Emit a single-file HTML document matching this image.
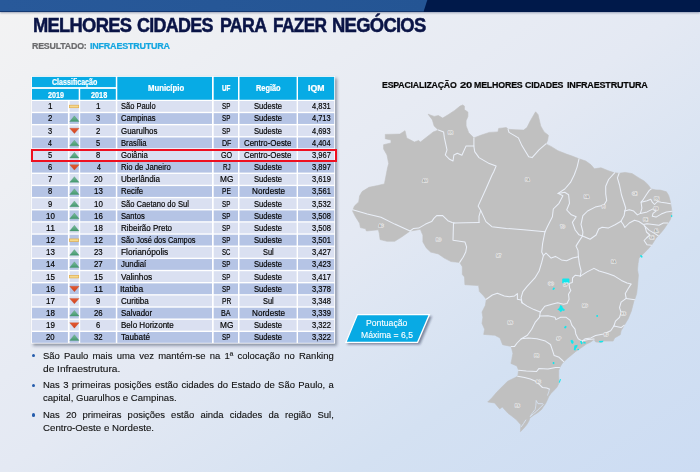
<!DOCTYPE html>
<html><head><meta charset="utf-8"><title>Melhores Cidades</title>
<style>
html,body{margin:0;padding:0;background:#fff}
body{width:700px;height:472px;overflow:hidden;position:relative;font-family:"Liberation Sans",sans-serif}
#bg{left:0;top:0;width:700px;height:472px;background:linear-gradient(to bottom right,#F3F3F3 0%,#E4E9F3 50%,#D4E1F2 75%,#CCDCF3 100%)}
.abs{position:absolute}
#bar{left:0;top:0;width:700px;height:11.6px;background:#00194A;box-shadow:0 1px 2px rgba(0,20,70,.35)}
#barl{left:0;top:0;width:428px;height:11.6px;background:linear-gradient(to right,#28599A,#245594);clip-path:polygon(0 0,427.3px 0,423.6px 100%,0 100%)}
.t{position:absolute;white-space:nowrap;transform-origin:0 0;line-height:1}
#tbl{left:31.2px;top:76.2px;width:303.8px;height:267.4px;background:#fff;box-shadow:1.2px 1.2px 2.2px rgba(40,50,80,.55)}
.c{position:absolute}
.h{background:#10A9E1}
.a{background:#DAE0F1} .b{background:#B5C4E5}
.ic svg{position:absolute;left:0;top:0;overflow:visible}
#red{left:31px;top:148.8px;width:302px;height:9px;border:2px solid #EE1020}
.bl{position:absolute;left:43.0px;color:#101010;line-height:1;white-space:nowrap}
.j{text-align:justify;text-align-last:justify;white-space:normal}
.dot{position:absolute;left:32.1px;width:3.4px;height:3.4px;border-radius:50%;background:#245CAC}
#badge{left:340px;top:308px}
</style></head>
<body>
<div id="bg" class="abs"></div>
<div id="bar" class="abs"></div><div id="barl" class="abs"></div>
<div class="t" style="left:32.64px;top:16.00px;font-size:19.3px;font-weight:bold;color:#0A1446;transform:scaleX(0.9508);letter-spacing:-0.75px;-webkit-text-stroke:0.5px #0A1446;">MELHORES</div>
<div class="t" style="left:137.02px;top:16.00px;font-size:19.3px;font-weight:bold;color:#0A1446;transform:scaleX(0.9275);letter-spacing:-0.75px;-webkit-text-stroke:0.5px #0A1446;">CIDADES</div>
<div class="t" style="left:219.67px;top:16.00px;font-size:19.3px;font-weight:bold;color:#0A1446;transform:scaleX(0.9218);letter-spacing:-0.75px;-webkit-text-stroke:0.5px #0A1446;">PARA</div>
<div class="t" style="left:272.50px;top:16.00px;font-size:19.3px;font-weight:bold;color:#0A1446;transform:scaleX(0.8973);letter-spacing:-0.75px;-webkit-text-stroke:0.5px #0A1446;">FAZER</div>
<div class="t" style="left:332.04px;top:16.00px;font-size:19.3px;font-weight:bold;color:#0A1446;transform:scaleX(0.9553);letter-spacing:-0.75px;-webkit-text-stroke:0.5px #0A1446;">NEGÓCIOS</div>
<div class="t" style="left:32.23px;top:42.00px;font-size:8.8px;font-weight:bold;color:#6A6A6C;transform:scaleX(1.0046);letter-spacing:-0.2px;-webkit-text-stroke:0.2px #6A6A6C;">RESULTADO:</div>
<div class="t" style="left:90.32px;top:42.00px;font-size:8.8px;font-weight:bold;color:#14A6E0;transform:scaleX(1.0200);letter-spacing:-0.2px;-webkit-text-stroke:0.2px #14A6E0;">INFRAESTRUTURA</div>
<div class="t" style="left:382.12px;top:80.00px;font-size:9.5px;font-weight:bold;color:#060606;transform:scaleX(0.9216);letter-spacing:-0.2px;-webkit-text-stroke:0.2px #060606;">ESPACIALIZAÇÃO</div>
<div class="t" style="left:459.73px;top:80.00px;font-size:9.5px;font-weight:bold;color:#060606;transform:scaleX(1.1798);letter-spacing:-0.2px;-webkit-text-stroke:0.2px #060606;">20</div>
<div class="t" style="left:474.12px;top:80.00px;font-size:9.5px;font-weight:bold;color:#060606;transform:scaleX(0.9290);letter-spacing:-0.2px;-webkit-text-stroke:0.2px #060606;">MELHORES</div>
<div class="t" style="left:525.34px;top:80.00px;font-size:9.5px;font-weight:bold;color:#060606;transform:scaleX(0.9260);letter-spacing:-0.2px;-webkit-text-stroke:0.2px #060606;">CIDADES</div>
<div class="t" style="left:566.91px;top:80.00px;font-size:9.5px;font-weight:bold;color:#060606;transform:scaleX(0.9510);letter-spacing:-0.2px;-webkit-text-stroke:0.2px #060606;">INFRAESTRUTURA</div>

<svg class="abs" style="left:20px;top:66px" width="330" height="292" viewBox="20 66 330 292">
<defs>
<linearGradient id="gu" gradientUnits="objectBoundingBox" x1="0" y1="0" x2="0" y2="1"><stop offset="0" stop-color="#7ABB9A"/><stop offset="1" stop-color="#43986E"/></linearGradient>
<linearGradient id="gd" gradientUnits="objectBoundingBox" x1="0" y1="0" x2="0" y2="1"><stop offset="0" stop-color="#E45A31"/><stop offset="1" stop-color="#CE4423"/></linearGradient>
<filter id="ts" x="-5%" y="-5%" width="112%" height="112%"><feGaussianBlur stdDeviation="1.35"/></filter>
</defs>
<rect x="33" y="78.2" width="304" height="267.6" fill="rgba(40,48,75,.46)" filter="url(#ts)"/>
<rect x="31.2" y="76.2" width="303.9" height="267.4" fill="#fff"/>
<rect x="32.00" y="76.90" width="83.80" height="10.20" fill="#07ABE5"/>
<rect x="32.00" y="88.90" width="46.70" height="10.85" fill="#07ABE5"/>
<rect x="80.20" y="88.90" width="35.60" height="10.85" fill="#07ABE5"/>
<rect x="117.30" y="76.90" width="94.70" height="22.85" fill="#07ABE5"/>
<rect x="213.70" y="76.90" width="24.30" height="22.85" fill="#07ABE5"/>
<rect x="239.50" y="76.90" width="57.10" height="22.85" fill="#07ABE5"/>
<rect x="298.00" y="76.90" width="36.20" height="22.85" fill="#07ABE5"/>
<rect x="32.00" y="101.00" width="35.90" height="10.80" fill="#DAE0F1"/>
<rect x="69.60" y="101.00" width="9.20" height="10.80" fill="#DAE0F1"/>
<rect x="80.20" y="101.00" width="35.60" height="10.80" fill="#DAE0F1"/>
<rect x="117.30" y="101.00" width="94.70" height="10.80" fill="#DAE0F1"/>
<rect x="213.70" y="101.00" width="24.30" height="10.80" fill="#DAE0F1"/>
<rect x="239.50" y="101.00" width="57.10" height="10.80" fill="#DAE0F1"/>
<rect x="298.00" y="101.00" width="36.20" height="10.80" fill="#DAE0F1"/>
<rect x="69.4" y="105.20" width="9.3" height="2.5" fill="#F5D98C" stroke="#E3AE4B" stroke-width="0.7"/>
<rect x="32.00" y="113.16" width="35.90" height="10.80" fill="#B5C4E5"/>
<rect x="69.60" y="113.16" width="9.20" height="10.80" fill="#B5C4E5"/>
<rect x="80.20" y="113.16" width="35.60" height="10.80" fill="#B5C4E5"/>
<rect x="117.30" y="113.16" width="94.70" height="10.80" fill="#B5C4E5"/>
<rect x="213.70" y="113.16" width="24.30" height="10.80" fill="#B5C4E5"/>
<rect x="239.50" y="113.16" width="57.10" height="10.80" fill="#B5C4E5"/>
<rect x="298.00" y="113.16" width="36.20" height="10.80" fill="#B5C4E5"/>
<path d="M74.4 115.86 L79.1 121.56 L69.7 121.56 Z" fill="url(#gu)" stroke="#3F9068" stroke-width=".3"/>
<rect x="32.00" y="125.32" width="35.90" height="10.80" fill="#DAE0F1"/>
<rect x="69.60" y="125.32" width="9.20" height="10.80" fill="#DAE0F1"/>
<rect x="80.20" y="125.32" width="35.60" height="10.80" fill="#DAE0F1"/>
<rect x="117.30" y="125.32" width="94.70" height="10.80" fill="#DAE0F1"/>
<rect x="213.70" y="125.32" width="24.30" height="10.80" fill="#DAE0F1"/>
<rect x="239.50" y="125.32" width="57.10" height="10.80" fill="#DAE0F1"/>
<rect x="298.00" y="125.32" width="36.20" height="10.80" fill="#DAE0F1"/>
<path d="M69.7 128.22 L79.1 128.22 L74.4 133.62 Z" fill="url(#gd)" stroke="#C23F20" stroke-width=".3"/>
<rect x="32.00" y="137.47" width="35.90" height="10.80" fill="#B5C4E5"/>
<rect x="69.60" y="137.47" width="9.20" height="10.80" fill="#B5C4E5"/>
<rect x="80.20" y="137.47" width="35.60" height="10.80" fill="#B5C4E5"/>
<rect x="117.30" y="137.47" width="94.70" height="10.80" fill="#B5C4E5"/>
<rect x="213.70" y="137.47" width="24.30" height="10.80" fill="#B5C4E5"/>
<rect x="239.50" y="137.47" width="57.10" height="10.80" fill="#B5C4E5"/>
<rect x="298.00" y="137.47" width="36.20" height="10.80" fill="#B5C4E5"/>
<path d="M74.4 140.17 L79.1 145.87 L69.7 145.87 Z" fill="url(#gu)" stroke="#3F9068" stroke-width=".3"/>
<rect x="32.00" y="149.63" width="35.90" height="10.80" fill="#DAE0F1"/>
<rect x="69.60" y="149.63" width="9.20" height="10.80" fill="#DAE0F1"/>
<rect x="80.20" y="149.63" width="35.60" height="10.80" fill="#DAE0F1"/>
<rect x="117.30" y="149.63" width="94.70" height="10.80" fill="#DAE0F1"/>
<rect x="213.70" y="149.63" width="24.30" height="10.80" fill="#DAE0F1"/>
<rect x="239.50" y="149.63" width="57.10" height="10.80" fill="#DAE0F1"/>
<rect x="298.00" y="149.63" width="36.20" height="10.80" fill="#DAE0F1"/>
<path d="M74.4 152.33 L79.1 158.03 L69.7 158.03 Z" fill="url(#gu)" stroke="#3F9068" stroke-width=".3"/>
<rect x="32.00" y="161.79" width="35.90" height="10.80" fill="#B5C4E5"/>
<rect x="69.60" y="161.79" width="9.20" height="10.80" fill="#B5C4E5"/>
<rect x="80.20" y="161.79" width="35.60" height="10.80" fill="#B5C4E5"/>
<rect x="117.30" y="161.79" width="94.70" height="10.80" fill="#B5C4E5"/>
<rect x="213.70" y="161.79" width="24.30" height="10.80" fill="#B5C4E5"/>
<rect x="239.50" y="161.79" width="57.10" height="10.80" fill="#B5C4E5"/>
<rect x="298.00" y="161.79" width="36.20" height="10.80" fill="#B5C4E5"/>
<path d="M69.7 164.69 L79.1 164.69 L74.4 170.09 Z" fill="url(#gd)" stroke="#C23F20" stroke-width=".3"/>
<rect x="32.00" y="173.95" width="35.90" height="10.80" fill="#DAE0F1"/>
<rect x="69.60" y="173.95" width="9.20" height="10.80" fill="#DAE0F1"/>
<rect x="80.20" y="173.95" width="35.60" height="10.80" fill="#DAE0F1"/>
<rect x="117.30" y="173.95" width="94.70" height="10.80" fill="#DAE0F1"/>
<rect x="213.70" y="173.95" width="24.30" height="10.80" fill="#DAE0F1"/>
<rect x="239.50" y="173.95" width="57.10" height="10.80" fill="#DAE0F1"/>
<rect x="298.00" y="173.95" width="36.20" height="10.80" fill="#DAE0F1"/>
<path d="M74.4 176.65 L79.1 182.35 L69.7 182.35 Z" fill="url(#gu)" stroke="#3F9068" stroke-width=".3"/>
<rect x="32.00" y="186.11" width="35.90" height="10.80" fill="#B5C4E5"/>
<rect x="69.60" y="186.11" width="9.20" height="10.80" fill="#B5C4E5"/>
<rect x="80.20" y="186.11" width="35.60" height="10.80" fill="#B5C4E5"/>
<rect x="117.30" y="186.11" width="94.70" height="10.80" fill="#B5C4E5"/>
<rect x="213.70" y="186.11" width="24.30" height="10.80" fill="#B5C4E5"/>
<rect x="239.50" y="186.11" width="57.10" height="10.80" fill="#B5C4E5"/>
<rect x="298.00" y="186.11" width="36.20" height="10.80" fill="#B5C4E5"/>
<path d="M74.4 188.81 L79.1 194.51 L69.7 194.51 Z" fill="url(#gu)" stroke="#3F9068" stroke-width=".3"/>
<rect x="32.00" y="198.26" width="35.90" height="10.80" fill="#DAE0F1"/>
<rect x="69.60" y="198.26" width="9.20" height="10.80" fill="#DAE0F1"/>
<rect x="80.20" y="198.26" width="35.60" height="10.80" fill="#DAE0F1"/>
<rect x="117.30" y="198.26" width="94.70" height="10.80" fill="#DAE0F1"/>
<rect x="213.70" y="198.26" width="24.30" height="10.80" fill="#DAE0F1"/>
<rect x="239.50" y="198.26" width="57.10" height="10.80" fill="#DAE0F1"/>
<rect x="298.00" y="198.26" width="36.20" height="10.80" fill="#DAE0F1"/>
<path d="M74.4 200.96 L79.1 206.66 L69.7 206.66 Z" fill="url(#gu)" stroke="#3F9068" stroke-width=".3"/>
<rect x="32.00" y="210.42" width="35.90" height="10.80" fill="#B5C4E5"/>
<rect x="69.60" y="210.42" width="9.20" height="10.80" fill="#B5C4E5"/>
<rect x="80.20" y="210.42" width="35.60" height="10.80" fill="#B5C4E5"/>
<rect x="117.30" y="210.42" width="94.70" height="10.80" fill="#B5C4E5"/>
<rect x="213.70" y="210.42" width="24.30" height="10.80" fill="#B5C4E5"/>
<rect x="239.50" y="210.42" width="57.10" height="10.80" fill="#B5C4E5"/>
<rect x="298.00" y="210.42" width="36.20" height="10.80" fill="#B5C4E5"/>
<path d="M74.4 213.12 L79.1 218.82 L69.7 218.82 Z" fill="url(#gu)" stroke="#3F9068" stroke-width=".3"/>
<rect x="32.00" y="222.58" width="35.90" height="10.80" fill="#DAE0F1"/>
<rect x="69.60" y="222.58" width="9.20" height="10.80" fill="#DAE0F1"/>
<rect x="80.20" y="222.58" width="35.60" height="10.80" fill="#DAE0F1"/>
<rect x="117.30" y="222.58" width="94.70" height="10.80" fill="#DAE0F1"/>
<rect x="213.70" y="222.58" width="24.30" height="10.80" fill="#DAE0F1"/>
<rect x="239.50" y="222.58" width="57.10" height="10.80" fill="#DAE0F1"/>
<rect x="298.00" y="222.58" width="36.20" height="10.80" fill="#DAE0F1"/>
<path d="M74.4 225.28 L79.1 230.98 L69.7 230.98 Z" fill="url(#gu)" stroke="#3F9068" stroke-width=".3"/>
<rect x="32.00" y="234.74" width="35.90" height="10.80" fill="#B5C4E5"/>
<rect x="69.60" y="234.74" width="9.20" height="10.80" fill="#B5C4E5"/>
<rect x="80.20" y="234.74" width="35.60" height="10.80" fill="#B5C4E5"/>
<rect x="117.30" y="234.74" width="94.70" height="10.80" fill="#B5C4E5"/>
<rect x="213.70" y="234.74" width="24.30" height="10.80" fill="#B5C4E5"/>
<rect x="239.50" y="234.74" width="57.10" height="10.80" fill="#B5C4E5"/>
<rect x="298.00" y="234.74" width="36.20" height="10.80" fill="#B5C4E5"/>
<rect x="69.4" y="238.94" width="9.3" height="2.5" fill="#F5D98C" stroke="#E3AE4B" stroke-width="0.7"/>
<rect x="32.00" y="246.90" width="35.90" height="10.80" fill="#DAE0F1"/>
<rect x="69.60" y="246.90" width="9.20" height="10.80" fill="#DAE0F1"/>
<rect x="80.20" y="246.90" width="35.60" height="10.80" fill="#DAE0F1"/>
<rect x="117.30" y="246.90" width="94.70" height="10.80" fill="#DAE0F1"/>
<rect x="213.70" y="246.90" width="24.30" height="10.80" fill="#DAE0F1"/>
<rect x="239.50" y="246.90" width="57.10" height="10.80" fill="#DAE0F1"/>
<rect x="298.00" y="246.90" width="36.20" height="10.80" fill="#DAE0F1"/>
<path d="M74.4 249.60 L79.1 255.30 L69.7 255.30 Z" fill="url(#gu)" stroke="#3F9068" stroke-width=".3"/>
<rect x="32.00" y="259.05" width="35.90" height="10.80" fill="#B5C4E5"/>
<rect x="69.60" y="259.05" width="9.20" height="10.80" fill="#B5C4E5"/>
<rect x="80.20" y="259.05" width="35.60" height="10.80" fill="#B5C4E5"/>
<rect x="117.30" y="259.05" width="94.70" height="10.80" fill="#B5C4E5"/>
<rect x="213.70" y="259.05" width="24.30" height="10.80" fill="#B5C4E5"/>
<rect x="239.50" y="259.05" width="57.10" height="10.80" fill="#B5C4E5"/>
<rect x="298.00" y="259.05" width="36.20" height="10.80" fill="#B5C4E5"/>
<path d="M74.4 261.75 L79.1 267.45 L69.7 267.45 Z" fill="url(#gu)" stroke="#3F9068" stroke-width=".3"/>
<rect x="32.00" y="271.21" width="35.90" height="10.80" fill="#DAE0F1"/>
<rect x="69.60" y="271.21" width="9.20" height="10.80" fill="#DAE0F1"/>
<rect x="80.20" y="271.21" width="35.60" height="10.80" fill="#DAE0F1"/>
<rect x="117.30" y="271.21" width="94.70" height="10.80" fill="#DAE0F1"/>
<rect x="213.70" y="271.21" width="24.30" height="10.80" fill="#DAE0F1"/>
<rect x="239.50" y="271.21" width="57.10" height="10.80" fill="#DAE0F1"/>
<rect x="298.00" y="271.21" width="36.20" height="10.80" fill="#DAE0F1"/>
<rect x="69.4" y="275.41" width="9.3" height="2.5" fill="#F5D98C" stroke="#E3AE4B" stroke-width="0.7"/>
<rect x="32.00" y="283.37" width="35.90" height="10.80" fill="#B5C4E5"/>
<rect x="69.60" y="283.37" width="9.20" height="10.80" fill="#B5C4E5"/>
<rect x="80.20" y="283.37" width="35.60" height="10.80" fill="#B5C4E5"/>
<rect x="117.30" y="283.37" width="94.70" height="10.80" fill="#B5C4E5"/>
<rect x="213.70" y="283.37" width="24.30" height="10.80" fill="#B5C4E5"/>
<rect x="239.50" y="283.37" width="57.10" height="10.80" fill="#B5C4E5"/>
<rect x="298.00" y="283.37" width="36.20" height="10.80" fill="#B5C4E5"/>
<path d="M69.7 286.27 L79.1 286.27 L74.4 291.67 Z" fill="url(#gd)" stroke="#C23F20" stroke-width=".3"/>
<rect x="32.00" y="295.53" width="35.90" height="10.80" fill="#DAE0F1"/>
<rect x="69.60" y="295.53" width="9.20" height="10.80" fill="#DAE0F1"/>
<rect x="80.20" y="295.53" width="35.60" height="10.80" fill="#DAE0F1"/>
<rect x="117.30" y="295.53" width="94.70" height="10.80" fill="#DAE0F1"/>
<rect x="213.70" y="295.53" width="24.30" height="10.80" fill="#DAE0F1"/>
<rect x="239.50" y="295.53" width="57.10" height="10.80" fill="#DAE0F1"/>
<rect x="298.00" y="295.53" width="36.20" height="10.80" fill="#DAE0F1"/>
<path d="M69.7 298.43 L79.1 298.43 L74.4 303.83 Z" fill="url(#gd)" stroke="#C23F20" stroke-width=".3"/>
<rect x="32.00" y="307.69" width="35.90" height="10.80" fill="#B5C4E5"/>
<rect x="69.60" y="307.69" width="9.20" height="10.80" fill="#B5C4E5"/>
<rect x="80.20" y="307.69" width="35.60" height="10.80" fill="#B5C4E5"/>
<rect x="117.30" y="307.69" width="94.70" height="10.80" fill="#B5C4E5"/>
<rect x="213.70" y="307.69" width="24.30" height="10.80" fill="#B5C4E5"/>
<rect x="239.50" y="307.69" width="57.10" height="10.80" fill="#B5C4E5"/>
<rect x="298.00" y="307.69" width="36.20" height="10.80" fill="#B5C4E5"/>
<path d="M74.4 310.39 L79.1 316.09 L69.7 316.09 Z" fill="url(#gu)" stroke="#3F9068" stroke-width=".3"/>
<rect x="32.00" y="319.84" width="35.90" height="10.80" fill="#DAE0F1"/>
<rect x="69.60" y="319.84" width="9.20" height="10.80" fill="#DAE0F1"/>
<rect x="80.20" y="319.84" width="35.60" height="10.80" fill="#DAE0F1"/>
<rect x="117.30" y="319.84" width="94.70" height="10.80" fill="#DAE0F1"/>
<rect x="213.70" y="319.84" width="24.30" height="10.80" fill="#DAE0F1"/>
<rect x="239.50" y="319.84" width="57.10" height="10.80" fill="#DAE0F1"/>
<rect x="298.00" y="319.84" width="36.20" height="10.80" fill="#DAE0F1"/>
<path d="M69.7 322.74 L79.1 322.74 L74.4 328.14 Z" fill="url(#gd)" stroke="#C23F20" stroke-width=".3"/>
<rect x="32.00" y="332.00" width="35.90" height="10.80" fill="#B5C4E5"/>
<rect x="69.60" y="332.00" width="9.20" height="10.80" fill="#B5C4E5"/>
<rect x="80.20" y="332.00" width="35.60" height="10.80" fill="#B5C4E5"/>
<rect x="117.30" y="332.00" width="94.70" height="10.80" fill="#B5C4E5"/>
<rect x="213.70" y="332.00" width="24.30" height="10.80" fill="#B5C4E5"/>
<rect x="239.50" y="332.00" width="57.10" height="10.80" fill="#B5C4E5"/>
<rect x="298.00" y="332.00" width="36.20" height="10.80" fill="#B5C4E5"/>
<path d="M74.4 334.70 L79.1 340.40 L69.7 340.40 Z" fill="url(#gu)" stroke="#3F9068" stroke-width=".3"/>
</svg>
<div class="t" style="left:51.76px;top:78.00px;font-size:8.5px;font-weight:bold;color:#fff;transform:scaleX(0.8337);-webkit-text-stroke:0.22px #fff;">Classificação</div>
<div class="t" style="left:47.89px;top:91.00px;font-size:8.5px;font-weight:bold;color:#fff;transform:scaleX(0.8469);-webkit-text-stroke:0.22px #fff;">2019</div>
<div class="t" style="left:90.79px;top:91.00px;font-size:8.5px;font-weight:bold;color:#fff;transform:scaleX(0.8558);-webkit-text-stroke:0.22px #fff;">2018</div>
<div class="t" style="left:147.75px;top:84.00px;font-size:8.5px;font-weight:bold;color:#fff;transform:scaleX(0.9107);-webkit-text-stroke:0.22px #fff;">Município</div>
<div class="t" style="left:222.16px;top:84.00px;font-size:8.5px;font-weight:bold;color:#fff;transform:scaleX(0.7371);-webkit-text-stroke:0.22px #fff;">UF</div>
<div class="t" style="left:256.22px;top:84.00px;font-size:8.5px;font-weight:bold;color:#fff;transform:scaleX(0.8672);-webkit-text-stroke:0.22px #fff;">Região</div>
<div class="t" style="left:308.00px;top:84.00px;font-size:8.5px;font-weight:bold;color:#fff;transform:scaleX(1.0239);-webkit-text-stroke:0.22px #fff;">IQM</div>
<div class="t" style="left:47.73px;top:102.00px;font-size:8.5px;color:#000;transform:scaleX(0.9531);-webkit-text-stroke:0.18px #000;">1</div>
<div class="t" style="left:96.13px;top:102.00px;font-size:8.5px;color:#000;transform:scaleX(0.9531);-webkit-text-stroke:0.18px #000;">1</div>
<div class="t" style="left:120.84px;top:102.00px;font-size:8.5px;color:#000;transform:scaleX(0.8815);-webkit-text-stroke:0.18px #000;">São Paulo</div>
<div class="t" style="left:222.25px;top:102.00px;font-size:8.5px;color:#000;transform:scaleX(0.7363);-webkit-text-stroke:0.18px #000;">SP</div>
<div class="t" style="left:254.18px;top:102.00px;font-size:8.5px;color:#000;transform:scaleX(0.8988);-webkit-text-stroke:0.18px #000;">Sudeste</div>
<div class="t" style="left:312.08px;top:102.00px;font-size:8.5px;color:#000;transform:scaleX(0.8789);-webkit-text-stroke:0.18px #000;">4,831</div>
<div class="t" style="left:47.95px;top:114.00px;font-size:8.5px;color:#000;transform:scaleX(0.9131);-webkit-text-stroke:0.18px #000;">2</div>
<div class="t" style="left:96.43px;top:114.00px;font-size:8.5px;color:#000;transform:scaleX(0.8763);-webkit-text-stroke:0.18px #000;">3</div>
<div class="t" style="left:120.80px;top:114.00px;font-size:8.5px;color:#000;transform:scaleX(0.9026);-webkit-text-stroke:0.18px #000;">Campinas</div>
<div class="t" style="left:222.25px;top:114.00px;font-size:8.5px;color:#000;transform:scaleX(0.7363);-webkit-text-stroke:0.18px #000;">SP</div>
<div class="t" style="left:254.18px;top:114.00px;font-size:8.5px;color:#000;transform:scaleX(0.8988);-webkit-text-stroke:0.18px #000;">Sudeste</div>
<div class="t" style="left:312.08px;top:114.00px;font-size:8.5px;color:#000;transform:scaleX(0.8772);-webkit-text-stroke:0.18px #000;">4,713</div>
<div class="t" style="left:48.03px;top:127.00px;font-size:8.5px;color:#000;transform:scaleX(0.8763);-webkit-text-stroke:0.18px #000;">3</div>
<div class="t" style="left:96.35px;top:127.00px;font-size:8.5px;color:#000;transform:scaleX(0.9131);-webkit-text-stroke:0.18px #000;">2</div>
<div class="t" style="left:120.79px;top:127.00px;font-size:8.5px;color:#000;transform:scaleX(0.9293);-webkit-text-stroke:0.18px #000;">Guarulhos</div>
<div class="t" style="left:222.25px;top:127.00px;font-size:8.5px;color:#000;transform:scaleX(0.7363);-webkit-text-stroke:0.18px #000;">SP</div>
<div class="t" style="left:254.18px;top:127.00px;font-size:8.5px;color:#000;transform:scaleX(0.8988);-webkit-text-stroke:0.18px #000;">Sudeste</div>
<div class="t" style="left:312.08px;top:127.00px;font-size:8.5px;color:#000;transform:scaleX(0.8772);-webkit-text-stroke:0.18px #000;">4,693</div>
<div class="t" style="left:48.19px;top:139.00px;font-size:8.5px;color:#000;transform:scaleX(0.8263);-webkit-text-stroke:0.18px #000;">4</div>
<div class="t" style="left:96.43px;top:139.00px;font-size:8.5px;color:#000;transform:scaleX(0.8763);-webkit-text-stroke:0.18px #000;">5</div>
<div class="t" style="left:120.57px;top:139.00px;font-size:8.5px;color:#000;transform:scaleX(0.9011);-webkit-text-stroke:0.18px #000;">Brasília</div>
<div class="t" style="left:221.55px;top:139.00px;font-size:8.5px;color:#000;transform:scaleX(0.8324);-webkit-text-stroke:0.18px #000;">DF</div>
<div class="t" style="left:244.48px;top:139.00px;font-size:8.5px;color:#000;transform:scaleX(0.9293);-webkit-text-stroke:0.18px #000;">Centro-Oeste</div>
<div class="t" style="left:312.08px;top:139.00px;font-size:8.5px;color:#000;transform:scaleX(0.8736);-webkit-text-stroke:0.18px #000;">4,404</div>
<div class="t" style="left:48.03px;top:151.00px;font-size:8.5px;color:#000;transform:scaleX(0.8763);-webkit-text-stroke:0.18px #000;">5</div>
<div class="t" style="left:96.39px;top:151.00px;font-size:8.5px;color:#000;transform:scaleX(0.8852);-webkit-text-stroke:0.18px #000;">8</div>
<div class="t" style="left:120.79px;top:151.00px;font-size:8.5px;color:#000;transform:scaleX(0.9150);-webkit-text-stroke:0.18px #000;">Goiânia</div>
<div class="t" style="left:220.81px;top:151.00px;font-size:8.5px;color:#000;transform:scaleX(0.8428);-webkit-text-stroke:0.18px #000;">GO</div>
<div class="t" style="left:244.48px;top:151.00px;font-size:8.5px;color:#000;transform:scaleX(0.9293);-webkit-text-stroke:0.18px #000;">Centro-Oeste</div>
<div class="t" style="left:311.93px;top:151.00px;font-size:8.5px;color:#000;transform:scaleX(0.8880);-webkit-text-stroke:0.18px #000;">3,967</div>
<div class="t" style="left:47.95px;top:163.00px;font-size:8.5px;color:#000;transform:scaleX(0.8943);-webkit-text-stroke:0.18px #000;">6</div>
<div class="t" style="left:96.59px;top:163.00px;font-size:8.5px;color:#000;transform:scaleX(0.8263);-webkit-text-stroke:0.18px #000;">4</div>
<div class="t" style="left:120.56px;top:163.00px;font-size:8.5px;color:#000;transform:scaleX(0.9106);-webkit-text-stroke:0.18px #000;">Rio de Janeiro</div>
<div class="t" style="left:222.52px;top:163.00px;font-size:8.5px;color:#000;transform:scaleX(0.7445);-webkit-text-stroke:0.18px #000;">RJ</div>
<div class="t" style="left:254.18px;top:163.00px;font-size:8.5px;color:#000;transform:scaleX(0.8988);-webkit-text-stroke:0.18px #000;">Sudeste</div>
<div class="t" style="left:311.93px;top:163.00px;font-size:8.5px;color:#000;transform:scaleX(0.8880);-webkit-text-stroke:0.18px #000;">3,897</div>
<div class="t" style="left:47.95px;top:175.00px;font-size:8.5px;color:#000;transform:scaleX(0.9131);-webkit-text-stroke:0.18px #000;">7</div>
<div class="t" style="left:94.15px;top:175.00px;font-size:8.5px;color:#000;transform:scaleX(0.9099);-webkit-text-stroke:0.18px #000;">20</div>
<div class="t" style="left:120.58px;top:175.00px;font-size:8.5px;color:#000;transform:scaleX(0.9484);-webkit-text-stroke:0.18px #000;">Uberlândia</div>
<div class="t" style="left:219.68px;top:175.00px;font-size:8.5px;color:#000;transform:scaleX(0.9757);-webkit-text-stroke:0.18px #000;">MG</div>
<div class="t" style="left:254.18px;top:175.00px;font-size:8.5px;color:#000;transform:scaleX(0.8988);-webkit-text-stroke:0.18px #000;">Sudeste</div>
<div class="t" style="left:311.93px;top:175.00px;font-size:8.5px;color:#000;transform:scaleX(0.8862);-webkit-text-stroke:0.18px #000;">3,619</div>
<div class="t" style="left:47.99px;top:187.00px;font-size:8.5px;color:#000;transform:scaleX(0.8852);-webkit-text-stroke:0.18px #000;">8</div>
<div class="t" style="left:93.94px;top:187.00px;font-size:8.5px;color:#000;transform:scaleX(0.9368);-webkit-text-stroke:0.18px #000;">13</div>
<div class="t" style="left:120.56px;top:187.00px;font-size:8.5px;color:#000;transform:scaleX(0.9192);-webkit-text-stroke:0.18px #000;">Recife</div>
<div class="t" style="left:221.89px;top:187.00px;font-size:8.5px;color:#000;transform:scaleX(0.7753);-webkit-text-stroke:0.18px #000;">PE</div>
<div class="t" style="left:251.55px;top:187.00px;font-size:8.5px;color:#000;transform:scaleX(0.9581);-webkit-text-stroke:0.18px #000;">Nordeste</div>
<div class="t" style="left:311.93px;top:187.00px;font-size:8.5px;color:#000;transform:scaleX(0.8862);-webkit-text-stroke:0.18px #000;">3,561</div>
<div class="t" style="left:47.99px;top:200.00px;font-size:8.5px;color:#000;transform:scaleX(0.8943);-webkit-text-stroke:0.18px #000;">9</div>
<div class="t" style="left:93.94px;top:200.00px;font-size:8.5px;color:#000;transform:scaleX(0.9322);-webkit-text-stroke:0.18px #000;">10</div>
<div class="t" style="left:120.84px;top:200.00px;font-size:8.5px;color:#000;transform:scaleX(0.8920);-webkit-text-stroke:0.18px #000;">São Caetano do Sul</div>
<div class="t" style="left:222.25px;top:200.00px;font-size:8.5px;color:#000;transform:scaleX(0.7363);-webkit-text-stroke:0.18px #000;">SP</div>
<div class="t" style="left:254.18px;top:200.00px;font-size:8.5px;color:#000;transform:scaleX(0.8988);-webkit-text-stroke:0.18px #000;">Sudeste</div>
<div class="t" style="left:311.93px;top:200.00px;font-size:8.5px;color:#000;transform:scaleX(0.8880);-webkit-text-stroke:0.18px #000;">3,532</div>
<div class="t" style="left:45.54px;top:212.00px;font-size:8.5px;color:#000;transform:scaleX(0.9322);-webkit-text-stroke:0.18px #000;">10</div>
<div class="t" style="left:93.94px;top:212.00px;font-size:8.5px;color:#000;transform:scaleX(0.9368);-webkit-text-stroke:0.18px #000;">16</div>
<div class="t" style="left:120.84px;top:212.00px;font-size:8.5px;color:#000;transform:scaleX(0.8949);-webkit-text-stroke:0.18px #000;">Santos</div>
<div class="t" style="left:222.25px;top:212.00px;font-size:8.5px;color:#000;transform:scaleX(0.7363);-webkit-text-stroke:0.18px #000;">SP</div>
<div class="t" style="left:254.18px;top:212.00px;font-size:8.5px;color:#000;transform:scaleX(0.8988);-webkit-text-stroke:0.18px #000;">Sudeste</div>
<div class="t" style="left:311.93px;top:212.00px;font-size:8.5px;color:#000;transform:scaleX(0.8843);-webkit-text-stroke:0.18px #000;">3,508</div>
<div class="t" style="left:45.50px;top:224.00px;font-size:8.5px;color:#000;transform:scaleX(1.0168);-webkit-text-stroke:0.18px #000;">11</div>
<div class="t" style="left:93.94px;top:224.00px;font-size:8.5px;color:#000;transform:scaleX(0.9368);-webkit-text-stroke:0.18px #000;">18</div>
<div class="t" style="left:120.55px;top:224.00px;font-size:8.5px;color:#000;transform:scaleX(0.9398);-webkit-text-stroke:0.18px #000;">Ribeirão Preto</div>
<div class="t" style="left:222.25px;top:224.00px;font-size:8.5px;color:#000;transform:scaleX(0.7363);-webkit-text-stroke:0.18px #000;">SP</div>
<div class="t" style="left:254.18px;top:224.00px;font-size:8.5px;color:#000;transform:scaleX(0.8988);-webkit-text-stroke:0.18px #000;">Sudeste</div>
<div class="t" style="left:311.93px;top:224.00px;font-size:8.5px;color:#000;transform:scaleX(0.8843);-webkit-text-stroke:0.18px #000;">3,508</div>
<div class="t" style="left:45.54px;top:236.00px;font-size:8.5px;color:#000;transform:scaleX(0.9461);-webkit-text-stroke:0.18px #000;">12</div>
<div class="t" style="left:93.94px;top:236.00px;font-size:8.5px;color:#000;transform:scaleX(0.9461);-webkit-text-stroke:0.18px #000;">12</div>
<div class="t" style="left:120.85px;top:236.00px;font-size:8.5px;color:#000;transform:scaleX(0.8710);-webkit-text-stroke:0.18px #000;">São José dos Campos</div>
<div class="t" style="left:222.25px;top:236.00px;font-size:8.5px;color:#000;transform:scaleX(0.7363);-webkit-text-stroke:0.18px #000;">SP</div>
<div class="t" style="left:254.18px;top:236.00px;font-size:8.5px;color:#000;transform:scaleX(0.8988);-webkit-text-stroke:0.18px #000;">Sudeste</div>
<div class="t" style="left:311.93px;top:236.00px;font-size:8.5px;color:#000;transform:scaleX(0.8862);-webkit-text-stroke:0.18px #000;">3,501</div>
<div class="t" style="left:45.54px;top:248.00px;font-size:8.5px;color:#000;transform:scaleX(0.9368);-webkit-text-stroke:0.18px #000;">13</div>
<div class="t" style="left:94.15px;top:248.00px;font-size:8.5px;color:#000;transform:scaleX(0.9143);-webkit-text-stroke:0.18px #000;">23</div>
<div class="t" style="left:120.52px;top:248.00px;font-size:8.5px;color:#000;transform:scaleX(0.9811);-webkit-text-stroke:0.18px #000;">Florianópolis</div>
<div class="t" style="left:222.19px;top:248.00px;font-size:8.5px;color:#000;transform:scaleX(0.7097);-webkit-text-stroke:0.18px #000;">SC</div>
<div class="t" style="left:262.94px;top:248.00px;font-size:8.5px;color:#000;transform:scaleX(0.8689);-webkit-text-stroke:0.18px #000;">Sul</div>
<div class="t" style="left:311.93px;top:248.00px;font-size:8.5px;color:#000;transform:scaleX(0.8880);-webkit-text-stroke:0.18px #000;">3,427</div>
<div class="t" style="left:45.55px;top:260.00px;font-size:8.5px;color:#000;transform:scaleX(0.9276);-webkit-text-stroke:0.18px #000;">14</div>
<div class="t" style="left:94.15px;top:260.00px;font-size:8.5px;color:#000;transform:scaleX(0.9231);-webkit-text-stroke:0.18px #000;">27</div>
<div class="t" style="left:121.07px;top:260.00px;font-size:8.5px;color:#000;transform:scaleX(0.9226);-webkit-text-stroke:0.18px #000;">Jundiaí</div>
<div class="t" style="left:222.25px;top:260.00px;font-size:8.5px;color:#000;transform:scaleX(0.7363);-webkit-text-stroke:0.18px #000;">SP</div>
<div class="t" style="left:254.18px;top:260.00px;font-size:8.5px;color:#000;transform:scaleX(0.8988);-webkit-text-stroke:0.18px #000;">Sudeste</div>
<div class="t" style="left:311.93px;top:260.00px;font-size:8.5px;color:#000;transform:scaleX(0.8843);-webkit-text-stroke:0.18px #000;">3,423</div>
<div class="t" style="left:45.54px;top:273.00px;font-size:8.5px;color:#000;transform:scaleX(0.9368);-webkit-text-stroke:0.18px #000;">15</div>
<div class="t" style="left:93.94px;top:273.00px;font-size:8.5px;color:#000;transform:scaleX(0.9368);-webkit-text-stroke:0.18px #000;">15</div>
<div class="t" style="left:121.15px;top:273.00px;font-size:8.5px;color:#000;transform:scaleX(0.9748);-webkit-text-stroke:0.18px #000;">Valinhos</div>
<div class="t" style="left:222.25px;top:273.00px;font-size:8.5px;color:#000;transform:scaleX(0.7363);-webkit-text-stroke:0.18px #000;">SP</div>
<div class="t" style="left:254.18px;top:273.00px;font-size:8.5px;color:#000;transform:scaleX(0.8988);-webkit-text-stroke:0.18px #000;">Sudeste</div>
<div class="t" style="left:311.93px;top:273.00px;font-size:8.5px;color:#000;transform:scaleX(0.8880);-webkit-text-stroke:0.18px #000;">3,417</div>
<div class="t" style="left:45.54px;top:285.00px;font-size:8.5px;color:#000;transform:scaleX(0.9368);-webkit-text-stroke:0.18px #000;">16</div>
<div class="t" style="left:93.90px;top:285.00px;font-size:8.5px;color:#000;transform:scaleX(1.0168);-webkit-text-stroke:0.18px #000;">11</div>
<div class="t" style="left:120.43px;top:285.00px;font-size:8.5px;color:#000;transform:scaleX(0.9982);-webkit-text-stroke:0.18px #000;">Itatiba</div>
<div class="t" style="left:222.25px;top:285.00px;font-size:8.5px;color:#000;transform:scaleX(0.7363);-webkit-text-stroke:0.18px #000;">SP</div>
<div class="t" style="left:254.18px;top:285.00px;font-size:8.5px;color:#000;transform:scaleX(0.8988);-webkit-text-stroke:0.18px #000;">Sudeste</div>
<div class="t" style="left:311.93px;top:285.00px;font-size:8.5px;color:#000;transform:scaleX(0.8843);-webkit-text-stroke:0.18px #000;">3,378</div>
<div class="t" style="left:45.54px;top:297.00px;font-size:8.5px;color:#000;transform:scaleX(0.9461);-webkit-text-stroke:0.18px #000;">17</div>
<div class="t" style="left:96.39px;top:297.00px;font-size:8.5px;color:#000;transform:scaleX(0.8943);-webkit-text-stroke:0.18px #000;">9</div>
<div class="t" style="left:120.78px;top:297.00px;font-size:8.5px;color:#000;transform:scaleX(0.9463);-webkit-text-stroke:0.18px #000;">Curitiba</div>
<div class="t" style="left:221.64px;top:297.00px;font-size:8.5px;color:#000;transform:scaleX(0.7888);-webkit-text-stroke:0.18px #000;">PR</div>
<div class="t" style="left:262.94px;top:297.00px;font-size:8.5px;color:#000;transform:scaleX(0.8689);-webkit-text-stroke:0.18px #000;">Sul</div>
<div class="t" style="left:311.93px;top:297.00px;font-size:8.5px;color:#000;transform:scaleX(0.8843);-webkit-text-stroke:0.18px #000;">3,348</div>
<div class="t" style="left:45.54px;top:309.00px;font-size:8.5px;color:#000;transform:scaleX(0.9368);-webkit-text-stroke:0.18px #000;">18</div>
<div class="t" style="left:94.15px;top:309.00px;font-size:8.5px;color:#000;transform:scaleX(0.9143);-webkit-text-stroke:0.18px #000;">26</div>
<div class="t" style="left:120.83px;top:309.00px;font-size:8.5px;color:#000;transform:scaleX(0.9276);-webkit-text-stroke:0.18px #000;">Salvador</div>
<div class="t" style="left:221.33px;top:309.00px;font-size:8.5px;color:#000;transform:scaleX(0.8456);-webkit-text-stroke:0.18px #000;">BA</div>
<div class="t" style="left:251.55px;top:309.00px;font-size:8.5px;color:#000;transform:scaleX(0.9581);-webkit-text-stroke:0.18px #000;">Nordeste</div>
<div class="t" style="left:311.93px;top:309.00px;font-size:8.5px;color:#000;transform:scaleX(0.8862);-webkit-text-stroke:0.18px #000;">3,339</div>
<div class="t" style="left:45.54px;top:321.00px;font-size:8.5px;color:#000;transform:scaleX(0.9414);-webkit-text-stroke:0.18px #000;">19</div>
<div class="t" style="left:96.35px;top:321.00px;font-size:8.5px;color:#000;transform:scaleX(0.8943);-webkit-text-stroke:0.18px #000;">6</div>
<div class="t" style="left:120.54px;top:321.00px;font-size:8.5px;color:#000;transform:scaleX(0.9475);-webkit-text-stroke:0.18px #000;">Belo Horizonte</div>
<div class="t" style="left:219.68px;top:321.00px;font-size:8.5px;color:#000;transform:scaleX(0.9757);-webkit-text-stroke:0.18px #000;">MG</div>
<div class="t" style="left:254.18px;top:321.00px;font-size:8.5px;color:#000;transform:scaleX(0.8988);-webkit-text-stroke:0.18px #000;">Sudeste</div>
<div class="t" style="left:311.93px;top:321.00px;font-size:8.5px;color:#000;transform:scaleX(0.8880);-webkit-text-stroke:0.18px #000;">3,322</div>
<div class="t" style="left:45.75px;top:333.00px;font-size:8.5px;color:#000;transform:scaleX(0.9099);-webkit-text-stroke:0.18px #000;">20</div>
<div class="t" style="left:94.23px;top:333.00px;font-size:8.5px;color:#000;transform:scaleX(0.9143);-webkit-text-stroke:0.18px #000;">32</div>
<div class="t" style="left:121.02px;top:333.00px;font-size:8.5px;color:#000;transform:scaleX(0.9554);-webkit-text-stroke:0.18px #000;">Taubaté</div>
<div class="t" style="left:222.25px;top:333.00px;font-size:8.5px;color:#000;transform:scaleX(0.7363);-webkit-text-stroke:0.18px #000;">SP</div>
<div class="t" style="left:254.18px;top:333.00px;font-size:8.5px;color:#000;transform:scaleX(0.8988);-webkit-text-stroke:0.18px #000;">Sudeste</div>
<div class="t" style="left:311.93px;top:333.00px;font-size:8.5px;color:#000;transform:scaleX(0.8880);-webkit-text-stroke:0.18px #000;">3,322</div>
<div id="red" class="abs"></div>
<div class="bl j" style="top:351.00px;font-size:9.9px;width:302.92px;transform:scaleX(0.96);transform-origin:0 0;-webkit-text-stroke:0.12px #101010">São Paulo mais uma vez mantém-se na 1ª colocação no Ranking</div>
<div class="t" style="left:43.36px;top:364.00px;font-size:9.9px;color:#101010;transform:scaleX(1.0267);-webkit-text-stroke:0.12px #101010;">de Infraestrutura.</div>
<div class="bl j" style="top:380.00px;font-size:9.9px;width:302.92px;transform:scaleX(0.96);transform-origin:0 0;-webkit-text-stroke:0.12px #101010">Nas 3 primeiras posições estão cidades do Estado de São Paulo, a</div>
<div class="t" style="left:43.37px;top:393.00px;font-size:9.9px;color:#101010;transform:scaleX(0.9698);-webkit-text-stroke:0.12px #101010;">capital, Guarulhos e Campinas.</div>
<div class="bl j" style="top:410.00px;font-size:9.9px;width:302.92px;transform:scaleX(0.96);transform-origin:0 0;-webkit-text-stroke:0.12px #101010">Nas 20 primeiras posições estão ainda cidades da região Sul,</div>
<div class="t" style="left:43.27px;top:423.00px;font-size:9.9px;color:#101010;transform:scaleX(0.9818);-webkit-text-stroke:0.12px #101010;">Centro-Oeste e Nordeste.</div>
<div class="dot" style="top:354.0px"></div>
<div class="dot" style="top:383.8px"></div>
<div class="dot" style="top:413.2px"></div>
<svg id="map" class="abs" style="left:340px;top:95px" width="350" height="345" viewBox="340 95 350 345">
<polygon points="428.1,114.2 434.1,116.4 438.4,115.6 442.7,118.1 448.5,114.5 454.7,110.4 460.1,106.1 462.7,104.9 464.4,106.1 464.4,109.6 467.9,112.1 467.9,116.4 466.1,120.7 466.1,125.9 468.7,132.7 473.9,137.9 480.7,135.3 489.3,132.4 497.9,131.9 498.7,128.4 506.4,127.6 508.1,129.3 516.0,129.8 523.6,130.1 527.0,127.6 530.4,120.7 535.6,111.8 538.1,114.7 540.7,125.9 544.1,131.9 548.4,135.3 547.6,140.4 545.9,143.9 551.0,146.4 557.9,150.7 566.4,154.1 572.0,156.0 579.0,158.8 585.7,161.0 591.0,164.8 594.3,168.8 601.0,167.8 609.0,171.0 614.6,172.8 619.1,173.3 625.1,172.4 632.0,173.6 638.9,177.9 644.1,181.0 647.8,184.4 651.2,189.0 656.0,189.9 660.4,190.1 666.4,191.8 668.7,195.5 670.2,201.0 671.2,206.7 672.0,211.9 671.5,216.3 670.1,220.0 667.4,224.0 664.1,228.9 660.4,233.4 656.0,238.2 652.0,244.5 647.6,249.6 642.4,254.7 639.0,258.1 638.1,263.3 637.5,270.0 638.4,275.0 637.7,284.1 636.7,293.6 634.8,299.3 633.8,301.4 631.4,310.9 628.2,318.8 624.3,325.2 621.1,330.8 620.3,334.7 614.7,337.9 613.1,341.1 603.6,341.1 601.2,342.4 595.6,341.9 594.1,339.5 590.9,341.9 586.1,344.3 580.5,348.3 575.8,351.4 571.0,355.4 566.2,359.4 562.3,363.4 559.9,367.3 558.7,370.6 558.7,375.9 558.9,379.6 558.7,383.8 556.8,387.5 553.6,390.7 551.0,393.4 548.8,396.5 547.2,400.3 545.7,403.4 543.5,406.6 541.6,409.4 537.9,412.6 533.6,415.2 529.9,417.9 528.9,421.1 526.7,424.8 523.6,428.5 520.4,431.7 520.9,424.8 518.8,422.6 516.7,420.0 511.4,415.8 508.0,413.3 502.3,407.1 499.7,408.9 494.6,402.9 487.7,402.0 492.0,397.7 497.1,391.7 502.3,386.6 507.4,381.4 514.3,378.0 517.7,376.3 518.6,370.3 516.9,366.0 510.9,363.4 511.7,360.0 512.9,353.3 511.1,346.4 502.6,344.7 500.0,337.9 494.9,335.3 483.7,334.4 484.6,329.3 482.0,323.3 482.9,317.3 482.0,312.1 485.4,305.3 486.3,299.3 483.7,295.9 479.4,291.6 478.6,285.6 464.9,284.7 464.5,277.0 462.3,274.4 462.3,266.7 459.7,262.4 451.1,261.6 444.3,258.1 438.3,253.9 430.6,252.1 426.3,247.9 422.9,241.9 422.9,235.0 422.1,233.6 420.4,229.3 415.0,230.3 410.1,231.0 401.6,237.0 394.7,241.3 387.0,241.3 380.1,239.6 379.3,233.6 378.4,229.8 366.4,231.0 365.6,228.8 360.4,227.6 359.6,223.3 355.3,216.4 352.7,211.3 352.7,210.4 354.4,206.1 358.7,201.9 359.6,195.9 362.1,191.6 369.0,187.3 377.6,185.6 384.4,183.9 386.1,175.3 387.5,168.0 388.7,163.6 387.0,155.0 383.6,149.0 383.6,144.7 391.0,143.0 391.0,140.0 385.3,138.7 385.3,134.4 399.9,134.1 405.0,130.7 406.7,137.9 414.4,142.1 418.7,140.4 420.4,142.1 433.3,131.9 438.4,130.1 434.1,125.9 432.4,119.9" fill="#C0C0C0" stroke="#C0C0C0" stroke-width="0.6" stroke-linejoin="round"/>
<g fill="none" stroke="#EAEFF8" stroke-width="1.05" stroke-linejoin="round" stroke-linecap="round">
<polyline points="438.4,130.1 443.6,131.9 444.4,137.9 447.0,149.9 445.3,155.0 449.6,159.3 453.0,161.0 453.9,155.0 457.3,153.3 461.9,155.3 466.1,145.9 473.9,145.9"/>
<polyline points="473.9,137.9 473.9,146.4 474.7,151.6 479.0,157.6 489.3,163.6 496.1,166.1 493.6,172.0 491.9,175.3 485.9,189.0 478.1,206.1 480.7,210.4 479.0,216.4 479.0,222.4"/>
<polyline points="479.0,222.4 465.0,222.8 454.7,223.0"/>
<polyline points="410.1,231.0 413.6,228.4 418.7,228.1 425.6,224.1 431.6,221.6 434.1,218.1 436.7,215.6 442.7,215.6 447.9,220.7 452.1,222.4 454.7,223.0"/>
<polyline points="453.5,223.0 453.0,240.3 464.9,241.9 466.6,247.0 465.7,252.1 463.1,257.3 459.7,262.4"/>
<polyline points="352.7,209.8 367.3,213.9 381.0,217.3 394.7,224.1 410.1,231.0"/>
<polyline points="508.1,129.3 509.0,132.4 518.4,137.9 521.9,145.6 528.7,156.7 532.1,157.6 539.0,149.9 545.9,143.9"/>
<polyline points="480.7,210.4 485.9,221.6 491.9,226.7 506.4,228.4 523.6,229.8 545.0,231.8"/>
<polyline points="579.0,158.8 577.1,167.1 574.3,174.8 570.5,182.4 564.8,189.0 558.1,193.4"/>
<polyline points="558.1,193.4 562.9,195.7 559.0,203.3 553.3,209.0 552.4,216.7 547.6,226.2 545.0,231.8"/>
<polyline points="545.0,231.8 544.3,235.0 542.6,243.6 541.7,252.1 543.4,255.6"/>
<polyline points="558.1,193.4 564.8,192.3 568.6,194.8 569.5,203.3 566.7,210.0 571.4,214.8 576.2,216.7 572.4,222.4 575.2,230.0 579.0,234.8 582.5,236.0"/>
<polyline points="614.6,172.8 608.6,179.5 605.7,186.2 605.7,193.8 606.7,200.5 603.8,205.2 595.2,207.1 587.6,211.0 582.9,215.7 581.0,224.3 582.9,231.9 582.5,236.0"/>
<polyline points="582.5,236.0 586.7,237.8 590.1,239.3 596.1,235.0 598.7,229.0 602.1,227.3 608.1,228.1 615.0,224.7 621.0,221.3"/>
<polyline points="582.5,236.0 578.6,241.9 576.0,246.1 578.0,250.4 578.4,256.7"/>
<polyline points="543.4,255.6 546.0,253.0 551.1,258.1 555.4,256.4 561.4,259.9 566.6,260.7 572.6,258.1 578.4,256.7"/>
<polyline points="578.4,256.7 579.4,264.1 581.1,271.0 580.3,276.1"/>
<polyline points="580.3,276.1 587.1,271.9 594.0,268.4 599.1,271.0 607.7,273.6 614.6,276.1 621.4,280.4 627.0,283.0 631.0,284.1"/>
<polyline points="631.0,284.1 628.1,288.8 625.3,293.6 626.2,298.4"/>
<polyline points="626.2,298.4 621.1,302.2 619.5,307.7 621.1,312.5 619.5,317.3 615.5,321.2 613.9,326.0"/>
<polyline points="626.2,298.4 634.8,299.8"/>
<polyline points="613.9,326.0 621.1,327.6 624.3,325.2"/>
<polyline points="613.9,326.0 610.7,330.8 603.6,334.0 595.6,335.5 590.9,337.9 585.3,338.7 582.1,341.1"/>
<polyline points="582.1,341.1 588.0,339.6 594.1,339.0"/>
<polyline points="582.1,341.1 578.2,338.7 575.8,333.9 575.0,329.2 571.8,325.2 570.2,320.4 566.2,317.3 560.7,317.3 555.9,319.6 555.1,317.3 547.9,315.7 539.7,316.0"/>
<polyline points="580.3,276.1 575.1,275.3 572.6,277.9 572.3,282.4 569.1,283.6 569.6,288.1 570.8,290.5 568.5,294.2 569.1,299.3 567.0,303.4 563.5,304.2 557.7,302.8 552.7,303.9 544.8,306.3 540.3,312.1"/>
<polyline points="540.3,312.1 539.7,316.0"/>
<polyline points="522.0,302.7 527.1,306.1 534.0,309.6 540.3,312.1"/>
<polyline points="543.4,255.6 541.7,262.4 539.1,271.0 534.9,277.9 527.1,286.4 522.9,291.6 521.1,297.6 522.0,302.7"/>
<polyline points="486.3,299.3 492.3,295.0 497.4,293.3 504.3,295.9 509.4,296.7 514.6,295.9 517.4,293.6 517.4,299.3 521.1,300.1 522.0,302.7"/>
<polyline points="539.7,316.0 539.4,317.3 535.1,322.4 531.7,329.3 527.4,335.3 521.4,338.7"/>
<polyline points="521.4,338.7 517.1,343.0 514.6,346.4 511.1,346.4"/>
<polyline points="521.4,338.7 528.3,337.9 536.9,338.7 545.4,341.1 550.5,344.5 552.5,350.3 554.2,355.6 559.1,357.3 562.5,360.5 563.8,361.8"/>
<polyline points="518.6,370.3 526.3,371.1 536.6,371.5 538.8,368.6 548.0,369.0 555.6,367.4 559.5,367.4"/>
<polyline points="517.7,376.3 524.6,377.6 530.3,379.1 535.6,381.2 539.8,384.9 542.5,387.5 546.7,388.1 549.6,389.2"/>
<polyline points="619.1,173.3 617.4,177.9 619.5,185.0 621.5,195.0 624.1,203.0 625.7,208.0 624.8,211.1"/>
<polyline points="624.8,211.1 629.3,209.7 633.7,211.1 637.4,214.9 640.4,213.4"/>
<polyline points="640.4,213.4 641.9,208.2 641.1,202.2 643.4,199.3 646.3,194.8 649.3,190.4 651.2,189.0"/>
<polyline points="641.1,202.2 647.1,200.8 650.8,199.3 652.3,202.2 654.5,204.5 657.5,201.5 661.2,202.2 666.4,203.0 670.5,203.7"/>
<polyline points="640.4,213.4 647.1,211.9 653.0,208.9 656.0,211.1 653.0,213.4 652.3,216.3 656.0,217.1 661.2,214.1 666.4,211.9 672.0,211.3"/>
<polyline points="624.8,211.1 624.1,215.6 621.0,221.3"/>
<polyline points="621.0,221.3 623.3,224.5 624.8,227.5 629.3,223.0 634.5,220.2 638.9,221.5 643.4,224.5 645.0,226.4"/>
<polyline points="643.4,224.5 647.1,223.7 653.0,224.5 658.9,225.2 663.4,223.0 667.8,223.0"/>
<polyline points="645.0,226.4 649.3,230.4 654.5,233.4 658.2,235.8"/>
<polyline points="645.0,226.4 646.5,232.0 649.8,235.0 646.5,238.0 644.1,240.5 647.0,244.8 651.5,245.3"/>
</g>
<g fill="none" stroke="#D6E2F3" stroke-linejoin="round" stroke-linecap="round">
<polyline points="549.4,389.3 548.8,391.8 547.6,395.2" stroke-width="0.8"/>
<polyline points="536.2,400.6 535.8,405.7 535.2,409.4 532.6,412.6 530.3,416.2" stroke-width="0.8"/>
<polyline points="536.4,401.0 538.0,403.7 542.7,403.7 543.2,404.6 540.0,407.8 536.8,411.0 533.6,413.6 530.4,416.4" stroke-width="0.9"/>
<polyline points="525.8,420.0 523.5,423.6 521.2,426.8" stroke-width="0.9"/>
</g>
<rect x="562.2" y="278.6" width="7.2" height="4.8" rx="0.9" fill="#12E6EC"/>
<path d="M553.9 287.2 L555 288.4 L553.6 290.1 L552.2 289.3 Z" fill="#12E6EC"/>
<path d="M560.3 305.1 L562.2 306 L562.8 307.9 L564.8 309.4 L564.2 311 L562.2 310.4 L560.9 312.2 L559.2 310.5 L557.3 309.5 L559.2 308.1 Z" fill="#12E6EC"/>
<rect x="596.4" y="315.0" width="1.5" height="1.9" fill="#12E6EC"/>
<path d="M565.6 325.8 L566.8 326.8 L565.6 328.6 L564 328 L564.6 326.4 Z" fill="#12E6EC"/>
<path d="M570.4 340.6 L572.2 339.8 L573.8 342 L572.8 344 L571.4 343.2 Z" fill="#12E6EC"/>
<path d="M574.4 345.6 L577.6 344.8 L577.2 347 L576 348.2 L575.4 350.4 L573.8 350 Z" fill="#12E6EC"/>
<rect x="577.4" y="348.9" width="1.6" height="1.2" fill="#12E6EC"/>
<path d="M580 341 L581.6 340.8 L582.6 343.6 L581.2 344.6 Z" fill="#12E6EC"/>
<path d="M583.2 341.8 L585.6 342.2 L585.8 343.4 L583.6 343.6 Z" fill="#12E6EC"/>
<path d="M598.8 341 L603.6 340.8 L602.6 342.2 L599.8 342.6 Z" fill="#12E6EC"/>
<rect x="552.8" y="362" width="1.5" height="2.1" fill="#12E6EC"/>
<path d="M560 378.9 L561 379.2 L559.7 382.7 L558.7 382.5 Z" fill="#12E6EC"/>
<path d="M640.2 255 L641.6 255.2 L642.8 257 L641.6 257.8 L640.4 256.6 Z" fill="#12E6EC"/>
<rect x="671.1" y="215.1" width="1.1" height="1.9" fill="#12E6EC"/>
<g font-family="Liberation Sans, sans-serif" font-size="3.4" text-anchor="middle" fill="#8a8a8a" stroke="#F3F3F3" stroke-width="1.1" paint-order="stroke" stroke-linejoin="round">
<text x="450.4" y="134.4">RR</text>
<text x="425.0" y="182.0">AM</text>
<text x="381.0" y="226.5">AC</text>
<text x="438.6" y="241.2">RO</text>
<text x="527.3" y="180.8">PA</text>
<text x="562.6" y="228.4">TO</text>
<text x="586.6" y="197.6">MA</text>
<text x="603.7" y="207.6">PI</text>
<text x="634.7" y="194.8">CE</text>
<text x="656.6" y="200.0">RN</text>
<text x="656.0" y="209.8">PB</text>
<text x="645.5" y="220.8">PE</text>
<text x="656.7" y="231.8">AL</text>
<text x="651.7" y="238.7">SE</text>
<text x="613.4" y="263.1">BA</text>
<text x="498.6" y="257.1">MT</text>
<text x="550.9" y="284.6">GO</text>
<text x="565.7" y="285.6">DF</text>
<text x="585.0" y="306.8">MG</text>
<text x="623.5" y="315.0">ES</text>
<text x="606.1" y="335.9">RJ</text>
<text x="558.8" y="339.6">SP</text>
<text x="510.3" y="323.6">MS</text>
<text x="536.5" y="357.4">PR</text>
<text x="538.3" y="383.0">SC</text>
<text x="517.4" y="406.6">RS</text>
</g>
</svg>
<svg id="badge" class="abs" width="100" height="44" viewBox="340 308 100 44">
<defs><filter id="bs" x="-20%" y="-20%" width="150%" height="160%"><feGaussianBlur stdDeviation="1.1"/></filter></defs>
<path d="M358.6 316.2 L432 316.2 L420 344.6 L347 344.6 Z" fill="rgba(30,40,70,.5)" filter="url(#bs)"/>
<path d="M357.4 314.6 L429.4 314.6 L417.6 342.3 L345.9 342.3 Z" fill="#08AAE4" stroke="#fff" stroke-width="1.3" stroke-linejoin="miter"/>
</svg>
<div class="t" style="left:366.26px;top:319.00px;font-size:8.5px;color:#fff;transform:scaleX(1.0174);-webkit-text-stroke:0.1px #fff;">Pontuação</div><div class="t" style="left:361.06px;top:331.00px;font-size:8.5px;color:#fff;transform:scaleX(1.0132);-webkit-text-stroke:0.1px #fff;">Máxima = 6,5</div>
</body></html>
